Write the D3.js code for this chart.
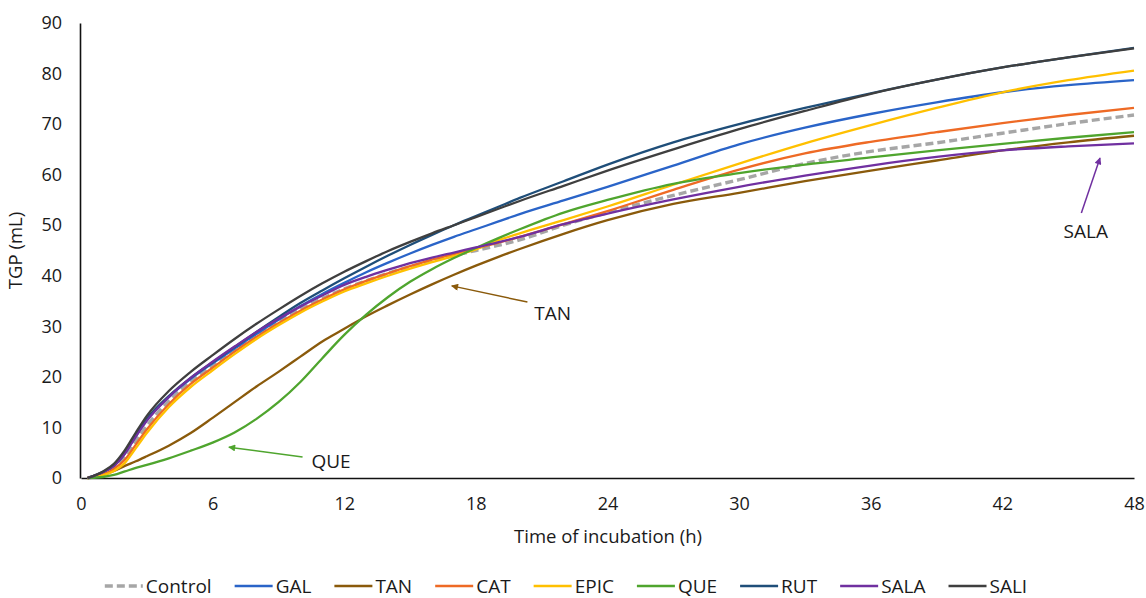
<!DOCTYPE html>
<html>
<head>
<meta charset="utf-8">
<script src="https://cdn.jsdelivr.net/npm/d3@7"></script>
<style>
  html, body { margin: 0; padding: 0; background: #fff; }
  svg { display: block; }
  text { font-family: "Open Sans", "Noto Sans", sans-serif; fill: #1a1a1a; }
</style>
</head>
<body>
<svg id="chart" width="1146" height="598"></svg>
<script>
// ---------- DATA ----------
const times = [0.3, 1, 1.5, 2, 2.5, 3, 4, 5, 6, 7, 8, 9, 10, 11, 12, 13, 14, 15, 16, 17, 18, 19, 20, 22, 24, 27, 30, 33, 36, 39, 42, 45, 48];

const seriesNames = ["Control", "GAL", "TAN", "CAT", "EPIC", "QUE", "RUT", "SALA", "SALI"];
const seriesColors = ["#a6a6a6", "#2a64c8", "#8a5a0b", "#ee6a25", "#ffc000", "#4fa52e", "#1f4e79", "#7030a0", "#3f3f3f"];

const controlValues = [0, 0.9, 2.1, 4.1, 7.3, 10.3, 15.2, 19, 22.2, 25.3, 28.2, 30.9, 33.3, 35.5, 37.4, 39, 40.5, 41.8, 43, 44, 45, 46, 47.1, 50, 52.5, 55.9, 59, 62.2, 64.6, 66.3, 68.2, 70.1, 71.8];
const galValues = [0, 1.1, 2.4, 4.9, 8.3, 11.5, 16, 19.6, 22.7, 25.6, 28.5, 31.3, 34, 36.4, 38.6, 40.7, 42.6, 44.4, 46.1, 47.7, 49.2, 50.7, 52.2, 54.9, 57.6, 61.8, 66, 69.3, 72, 74.3, 76.3, 77.7, 78.7];
const tanValues = [0, 0.6, 1.4, 2.4, 3.3, 4.3, 6.4, 8.9, 11.9, 15, 18.1, 21, 24, 27, 29.5, 32, 34.2, 36.3, 38.3, 40.2, 42, 43.7, 45.3, 48.3, 51, 54.2, 56.4, 58.7, 60.8, 62.8, 64.8, 66.4, 67.7];
const catValues = [0, 0.7, 1.8, 3.6, 6.6, 9.6, 14.6, 18.6, 21.8, 25, 27.9, 30.6, 33.1, 35.3, 37.3, 39, 40.5, 41.9, 43.2, 44.3, 45.4, 46.5, 47.7, 50.2, 52.8, 57, 61, 64.2, 66.5, 68.4, 70.2, 71.8, 73.2];
const epicValues = [0, 0.5, 1.4, 3, 5.9, 8.9, 14, 18, 21.3, 24.5, 27.5, 30.2, 32.7, 34.9, 36.9, 38.5, 40, 41.4, 42.7, 43.9, 45.2, 47, 48.4, 51, 53.7, 58, 62.2, 66.2, 69.8, 73.2, 76.3, 78.7, 80.6];
const queValues = [0, 0.2, 0.6, 1.3, 2, 2.6, 3.9, 5.4, 7, 9, 11.7, 15, 19, 23.7, 28.3, 32.3, 35.8, 38.8, 41.3, 43.5, 45.5, 47.4, 49.2, 52.5, 55, 58.2, 60.3, 62, 63.4, 64.8, 66.1, 67.3, 68.4];
const rutValues = [0, 1.2, 2.5, 5, 8.5, 11.7, 16.2, 19.8, 22.9, 25.9, 28.9, 31.8, 34.6, 37.1, 39.5, 41.8, 44, 46.1, 48.1, 50, 51.8, 53.6, 55.4, 58.7, 62, 66.4, 70, 73.2, 76.1, 78.8, 81.2, 83.2, 85.1];
const salaValues = [0, 1.2, 2.4, 4.8, 8.2, 11.3, 16, 19.8, 23, 26, 28.9, 31.5, 33.9, 36.1, 38.2, 39.8, 41.2, 42.5, 43.6, 44.6, 45.6, 46.6, 47.7, 50.2, 52.3, 55.1, 57.6, 59.8, 61.8, 63.5, 64.8, 65.6, 66.2];
const saliValues = [0, 1.3, 2.8, 5.5, 9, 12.3, 17.2, 21, 24.3, 27.5, 30.5, 33.3, 36, 38.5, 40.8, 42.9, 44.9, 46.7, 48.4, 50, 51.6, 53.2, 54.8, 57.8, 60.8, 65, 69, 72.6, 76, 78.8, 81.2, 83.2, 85];

const xTicks = [0, 6, 12, 18, 24, 30, 36, 42, 48];
const yTicks = [0, 10, 20, 30, 40, 50, 60, 70, 80, 90];

// annotations: label, series index, tip [t, v], tail [t, v], text [t, v]
const annotations = [
  { label: "QUE", series: 5, tip: [6.74, 6.1], tail: [10.1, 4.15], text: [11.4, 3.2] },
  { label: "TAN", series: 2, tip: [16.9, 38.0], tail: [20.35, 34.8], text: [21.5, 32.6] },
  { label: "SALA", series: 7, tip: [46.45, 63.3], tail: [45.6, 52.4], text: [45.8, 48.7] }
];

// ---------- CHART ----------
const allValues = [controlValues, galValues, tanValues, catValues, epicValues, queValues, rutValues, salaValues, saliValues];
const series = seriesNames.map((name, i) => ({
  name, color: seriesColors[i],
  points: times.map((t, j) => ({ t, v: allValues[i][j] }))
}));

const svg = d3.select("#chart");

const x = d3.scaleLinear().domain([0, 48]).range([81, 1134]);
const y = d3.scaleLinear().domain([0, 90]).range([478, 23]);

// axes
const xAxis = d3.axisBottom(x).tickValues(xTicks).tickSize(0).tickPadding(19);
const yAxis = d3.axisLeft(y).tickValues(yTicks).tickSize(0).tickPadding(18);

const gx = svg.append("g").attr("transform", `translate(0,${y(0)})`).call(xAxis);
const gy = svg.append("g").attr("transform", `translate(${x(0) - 1},0)`).call(yAxis);
[gx, gy].forEach(g => {
  g.select(".domain").attr("stroke", "#111").attr("stroke-width", 1.6);
  g.selectAll("text").style("font-size", "18px").style("fill", "#1a1a1a")
    .style("font-family", '"Open Sans", sans-serif');
});

// axis titles
svg.append("text")
  .attr("x", 608).attr("y", 543)
  .attr("text-anchor", "middle")
  .style("font-size", "18.5px")
  .text("Time of incubation (h)");

svg.append("text")
  .attr("transform", `translate(22,${y(45)}) rotate(-90)`)
  .attr("text-anchor", "middle")
  .style("font-size", "18.5px")
  .text("TGP (mL)");

// lines
const line = d3.line().x(d => x(d.t)).y(d => y(d.v)).curve(d3.curveMonotoneX);
const gLines = svg.append("g");
series.forEach((s, i) => {
  gLines.append("path")
    .datum(s.points)
    .attr("fill", "none")
    .attr("stroke", s.color)
    .attr("stroke-width", i === 0 ? 3.4 : 2.3)
    .attr("stroke-dasharray", i === 0 ? "8,4" : null)
    .attr("stroke-linejoin", "round")
    .attr("d", line);
});

// annotations
const defs = svg.append("defs");
annotations.forEach((a, k) => {
  const col = seriesColors[a.series];
  defs.append("marker")
    .attr("id", "arr" + k)
    .attr("viewBox", "0 0 10 10")
    .attr("refX", 9).attr("refY", 5)
    .attr("markerWidth", 8).attr("markerHeight", 7)
    .attr("markerUnits", "userSpaceOnUse")
    .attr("orient", "auto")
    .append("path").attr("d", "M0,0 L10,5 L0,10 z").attr("fill", col);
  svg.append("line")
    .attr("x1", x(a.tail[0])).attr("y1", y(a.tail[1]))
    .attr("x2", x(a.tip[0])).attr("y2", y(a.tip[1]))
    .attr("stroke", col).attr("stroke-width", 1.5)
    .attr("marker-end", `url(#arr${k})`);
  svg.append("text")
    .attr("x", x(a.text[0])).attr("y", y(a.text[1]))
    .attr("dy", "0.35em")
    .attr("text-anchor", "middle")
    .style("font-size", "19px")
    .text(a.label);
});

// legend
const legend = svg.append("g");
const sampleW = 38, textGap = 3, itemGap = 23, legendY = 586;
let cx = 0;
series.forEach((s, i) => {
  const g = legend.append("g");
  g.append("line")
    .attr("x1", 0).attr("x2", sampleW).attr("y1", 0).attr("y2", 0)
    .attr("stroke", s.color)
    .attr("stroke-width", i === 0 ? 3.4 : 2.6)
    .attr("stroke-dasharray", i === 0 ? "8,4" : null);
  const t = g.append("text")
    .attr("x", sampleW + textGap).attr("y", 0)
    .attr("dy", "0.35em")
    .style("font-size", "19px")
    .text(s.name);
  const w = sampleW + textGap + t.node().getComputedTextLength();
  g.attr("transform", `translate(${cx},${legendY})`);
  cx += w + itemGap;
});
const totalW = cx - itemGap;
legend.attr("transform", `translate(${566 - totalW / 2},0)`);
</script>
</body>
</html>
